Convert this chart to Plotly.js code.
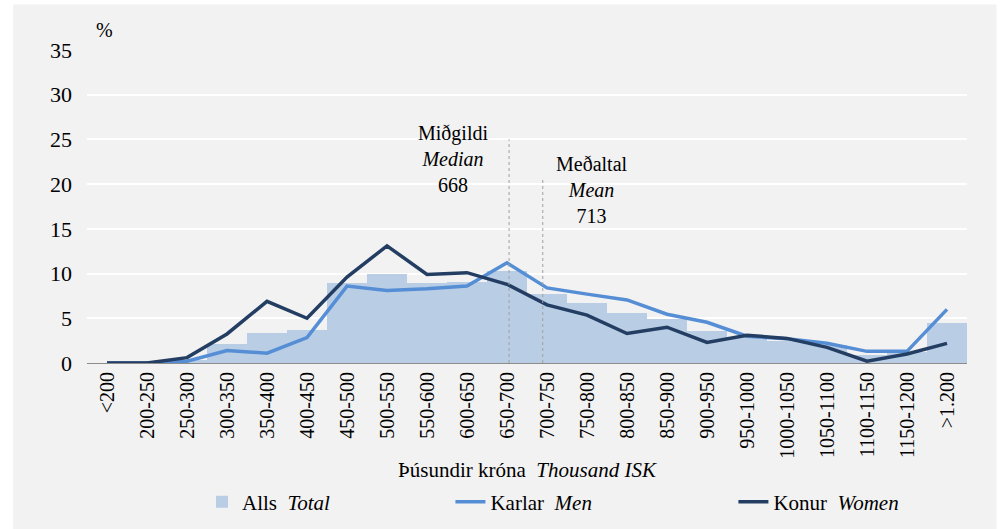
<!DOCTYPE html>
<html>
<head>
<meta charset="utf-8">
<script src="https://cdn.plot.ly/plotly-3.0.1.min.js"></script>
<style>
html,body{margin:0;padding:0;background:#ffffff;}
#chart{width:1002px;height:529px;}
</style>
</head>
<body>
<div id="chart"></div>
<script>
const categories = ["<200","200-250","250-300","300-350","350-400","400-450","450-500","500-550","550-600","600-650","650-700","700-750","750-800","800-850","850-900","900-950","950-1000","1000-1050","1050-1100","1100-1150","1150-1200",">1.200"];
const total = [0, 0, 0.3, 2.1, 3.4, 3.7, 9.0, 10.0, 8.9, 9.1, 10.3, 7.7, 6.75, 5.55, 4.9, 3.6, 2.9, 2.5, 2.0, 0.9, 1.2, 4.5];
const men   = [0, 0, 0.2, 1.4, 1.1, 2.85, 8.6, 8.1, 8.3, 8.6, 11.2, 8.4, 7.7, 7.05, 5.45, 4.55, 3.0, 2.7, 2.2, 1.3, 1.3, 6.0];
const women = [0, 0, 0.6, 3.25, 6.9, 5.0, 9.6, 13.1, 9.9, 10.1, 8.8, 6.5, 5.35, 3.3, 4.0, 2.3, 3.1, 2.75, 1.75, 0.2, 1.0, 2.2];
const medianValue = 668;
const meanValue = 713;
const medianLineTop = 25;
const meanLineTop = 20.6;
const legendNames = ['Alls  <i>Total</i>', 'Karlar  <i>Men</i>', 'Konur  <i>Women</i>'];

const serif = "Liberation Serif";
const pad = n => '&nbsp;'.repeat(n);

const traces = [
  {type:'bar', x:categories, y:total, name:legendNames[0] + pad(22), marker:{color:'#b9cde5'}, hoverinfo:'skip'},
  {type:'scatter', mode:'lines', x:[medianValue, medianValue], y:[0, medianLineTop], xaxis:'x2', showlegend:false,
   line:{color:'#a0a0a0', width:1, dash:'dot'}, hoverinfo:'skip'},
  {type:'scatter', mode:'lines', x:[meanValue, meanValue], y:[0, meanLineTop], xaxis:'x2', showlegend:false,
   line:{color:'#a0a0a0', width:1, dash:'dot'}, hoverinfo:'skip'},
  {type:'scatter', mode:'lines', x:categories, y:men, name:legendNames[1] + pad(26), line:{color:'#558ed5', width:3.5}, hoverinfo:'skip'},
  {type:'scatter', mode:'lines', x:categories, y:women, name:legendNames[2], line:{color:'#233e62', width:3.5}, hoverinfo:'skip'}
];

const layout = {
  width:1002, height:529,
  margin:{l:87, r:34.5, t:49.5, b:165.5},
  paper_bgcolor:'#ffffff',
  plot_bgcolor:'#d9d9d9',
  font:{family:serif, color:'#000000', size:20},
  showlegend:true,
  bargap:0,
  xaxis:{
    type:'category', categoryorder:'array', categoryarray:categories,
    tickangle:-90, tickfont:{size:20, family:serif}, showgrid:false,
    showline:true, linecolor:'#8c8c8c', linewidth:1, zeroline:false, ticks:'',
    title:{text:'Þúsundir króna  <i>Thousand ISK</i>', font:{size:21, family:serif}, standoff:4},
    fixedrange:true
  },
  xaxis2:{overlaying:'x', range:[104.2, 1279.7], visible:false, fixedrange:true},
  yaxis:{
    range:[0,35], dtick:5, tickfont:{size:22, family:serif}, gridcolor:'#ffffff', gridwidth:2,
    zeroline:false, showline:false, ticks:'', ticklabelstandoff:14, fixedrange:true
  },
  legend:{orientation:'h', xref:'container', x:0.2016, xanchor:'left', yref:'container', y:0.051, yanchor:'middle',
    font:{size:21, family:serif}, bgcolor:'rgba(0,0,0,0)', traceorder:'normal'},
  shapes:[
    {type:'rect', xref:'paper', yref:'paper', x0:-0.084, x1:1.0335, y0:-0.7, y1:1.145,
     fillcolor:'#f2f2f2', line:{width:0}, layer:'below'}
  ],
  annotations:[
    {xref:'paper', yref:'paper', x:0.0204, y:1.065, xanchor:'center', yanchor:'middle', text:'%', showarrow:false, font:{size:20, family:serif}},
    {xref:'paper', yref:'paper', x:0.4157, y:0.653, xanchor:'center', yanchor:'middle', text:'Miðgildi<br><i>Median</i><br>'+medianValue, showarrow:false,
     font:{size:20, family:serif}, align:'center'},
    {xref:'paper', yref:'paper', x:0.5735, y:0.5525, xanchor:'center', yanchor:'middle', text:'Meðaltal<br><i>Mean</i><br>'+meanValue, showarrow:false,
     font:{size:20, family:serif}, align:'center'}
  ]
};

Plotly.newPlot('chart', traces, layout, {staticPlot:true, displayModeBar:false});
</script>
</body>
</html>
